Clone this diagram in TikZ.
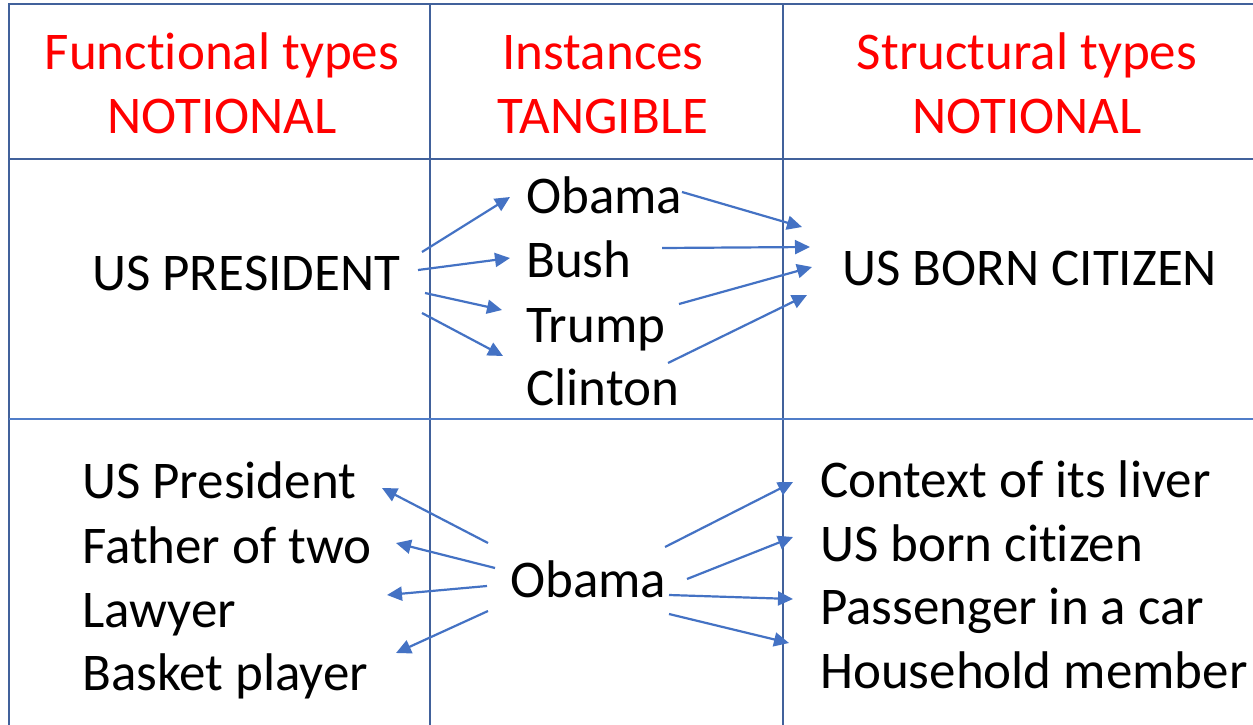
\documentclass[tikz,border=0pt]{standalone}
\usepackage{fontspec}
\setmainfont{Carlito}[Ligatures=NoCommon]
\usetikzlibrary{arrows.meta}
\definecolor{gridblue}{RGB}{65,97,155}
\definecolor{thinblue}{RGB}{80,125,200}
\definecolor{arrblue}{RGB}{68,114,196}
\definecolor{headred}{RGB}{255,0,0}
\tikzset{
  txt/.style={inner sep=0pt, font=\fontsize{53}{63}\selectfont, text=black},
  head/.style={txt, anchor=base, text=headred},
  item/.style={txt, anchor=base west},
  grid/.style={draw=gridblue, line width=2.6pt},
  thingrid/.style={draw=thinblue, line width=1.5pt},
  link/.style={draw=arrblue, line width=2.2pt, -{Triangle[length=15pt,width=14pt]}}
}
\begin{document}
\begin{tikzpicture}[x=1pt,y=-1pt]
\useasboundingbox[fill=white] (0,0) rectangle (1253,725);
% grid
\draw[grid] (9,725) -- (9,4) -- (1253,4);
\draw[grid] (430,4) -- (430,725);
\draw[grid] (783,4) -- (783,725);
\draw[grid] (9,159) -- (1253,159);
\draw[thingrid] (9,419) -- (1253,419);
% headers
\node[head] (h1a) at (222,70) {Functional types};
\node[head] (h1b) at (222,133) {NOTIONAL};
\node[head] (h2a) at (603,70) {Instances};
\node[head] (h2b) at (603,133) {TANGIBLE};
\node[head] (h3a) at (1027,70) {Structural types};
\node[head] (h3b) at (1027,133) {NOTIONAL};
% row 2
\node[item] (pres) at (92,290) {US PRESIDENT};
\node[item] (obama) at (526,213) {Obama};
\node[item] (bush) at (526,277) {Bush};
\node[item] (trump) at (526,342) {Trump};
\node[item] (clinton) at (526,405) {Clinton};
\node[item] (born) at (842,285) {US BORN CITIZEN};
% row 3
\node[item] (f1) at (82,498) {US President};
\node[item] (f2) at (82,563) {Father of two};
\node[item] (f3) at (82,627) {Lawyer};
\node[item] (f4) at (82,690) {Basket player};
\node[item] (ob) at (510,597) {Obama};
\node[item] (s1) at (820,497) {Context of its liver};
\node[item] (s2) at (820,561) {US born citizen};
\node[item] (s3) at (820,624) {Passenger in a car};
\node[item] (s4) at (820,688) {Household member};
% arrow end points
\coordinate (pa1) at (422,252); \coordinate (pb1) at (510,197);
\coordinate (pa2) at (418,270); \coordinate (pb2) at (510,258);
\coordinate (pa3) at (425,293); \coordinate (pb3) at (502,310);
\coordinate (pa4) at (422,313); \coordinate (pb4) at (503,356);
\coordinate (qa1) at (682,192); \coordinate (qb1) at (802,227);
\coordinate (qa2) at (662,248); \coordinate (qb2) at (810,247);
\coordinate (qa3) at (679,304); \coordinate (qb3) at (812,267);
\coordinate (qa4) at (668,363); \coordinate (qb4) at (807,295);
\coordinate (ra1) at (488,543); \coordinate (rb1) at (382,488);
\coordinate (ra2) at (495,568); \coordinate (rb2) at (396,543);
\coordinate (ra3) at (487,586); \coordinate (rb3) at (387,595);
\coordinate (ra4) at (488,611); \coordinate (rb4) at (396,653);
\coordinate (ta1) at (665,547); \coordinate (tb1) at (793,482);
\coordinate (ta2) at (687,579); \coordinate (tb2) at (793,537);
\coordinate (ta3) at (669,595); \coordinate (tb3) at (793,599);
\coordinate (ta4) at (669,614); \coordinate (tb4) at (789,643);
% arrows
\foreach \i in {1,2,3,4} {
  \draw[link] (pa\i) -- (pb\i);
  \draw[link] (qa\i) -- (qb\i);
  \draw[link] (ra\i) -- (rb\i);
  \draw[link] (ta\i) -- (tb\i);
}
\end{tikzpicture}
\end{document}
